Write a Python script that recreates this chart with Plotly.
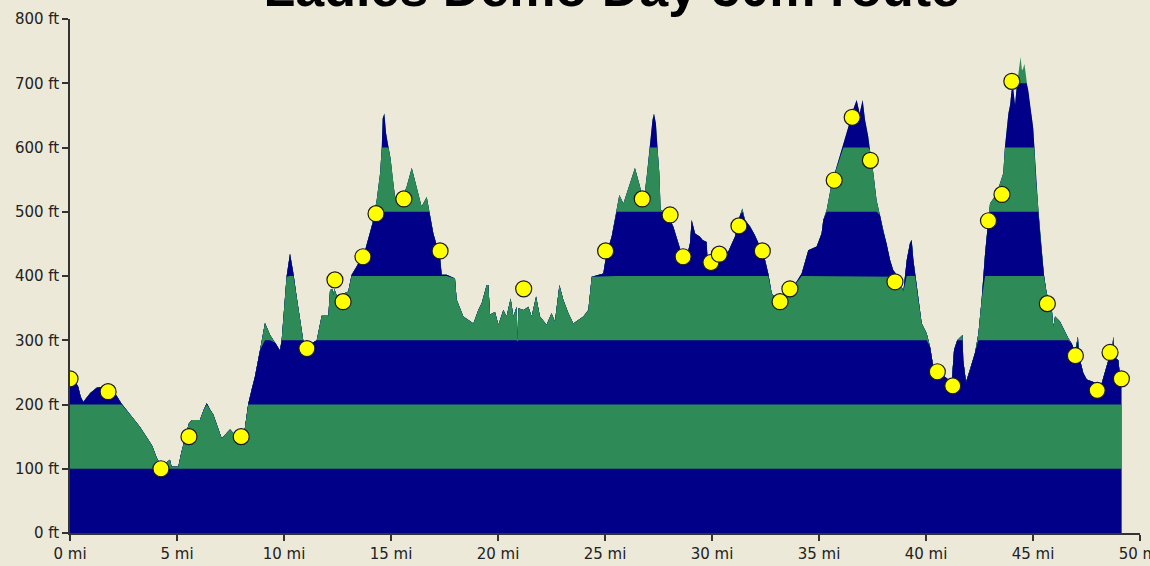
import numpy as np
import plotly.graph_objects as go

# Elevation profile (distance in miles, elevation in feet)
dist_mi = [0.00, 0.20, 0.38, 0.50, 0.62, 0.95, 1.25, 1.55, 1.87, 2.15, 2.41, 2.80, 3.27, 3.66, 3.85, 4.05,
           4.20, 4.45, 4.67, 4.75, 5.06, 5.20, 5.37, 5.55, 5.69, 6.07, 6.25, 6.39, 6.55, 6.70, 6.90, 7.09,
           7.30, 7.48, 7.65, 7.79, 7.95, 8.10, 8.18, 8.33, 8.50, 8.64, 8.88, 9.11, 9.35, 9.60, 9.81, 9.89,
           10.00, 10.12, 10.28, 10.44, 10.59, 10.75, 10.90, 10.98, 11.25, 11.53, 11.65, 11.76, 12.07, 12.15,
           12.25, 12.30, 12.35, 12.46, 12.75, 13.00, 13.16, 13.40, 13.79, 14.10, 14.33, 14.49, 14.57, 14.61,
           14.69, 14.77, 14.88, 14.98, 15.08, 15.19, 15.42, 15.73, 15.97, 16.20, 16.43, 16.67, 16.79, 16.98,
           17.29, 17.37, 17.60, 17.99, 18.07, 18.38, 18.85, 19.08, 19.24, 19.47, 19.55, 19.63, 19.86, 20.02,
           20.25, 20.40, 20.59, 20.72, 20.87, 20.92, 20.95, 21.20, 21.42, 21.57, 21.78, 21.96, 22.27, 22.50,
           22.66, 22.87, 23.05, 23.29, 23.52, 23.99, 24.22, 24.38, 24.92, 25.07, 25.31, 25.54, 25.67, 25.86,
           26.17, 26.40, 26.64, 26.79, 26.95, 27.10, 27.22, 27.29, 27.38, 27.45, 27.54, 27.60, 27.88, 28.19,
           28.43, 28.58, 28.82, 28.97, 29.05, 29.21, 29.44, 29.56, 29.75, 29.80, 29.98, 30.37, 30.76, 31.07,
           31.31, 31.42, 31.54, 31.78, 32.00, 32.32, 32.48, 32.63, 32.79, 33.02, 33.49, 33.80, 34.19, 34.50,
           34.89, 35.12, 35.20, 35.36, 35.59, 35.83, 36.14, 36.37, 36.53, 36.68, 36.76, 36.90, 37.04, 37.15,
           37.30, 37.38, 37.54, 37.69, 37.85, 38.00, 38.16, 38.32, 38.47, 38.71, 38.94, 39.10, 39.25, 39.33,
           39.41, 39.49, 39.64, 39.80, 40.03, 40.19, 40.34, 40.57, 40.97, 41.20, 41.31, 41.46, 41.71, 41.74,
           41.87, 42.06, 42.29, 42.45, 42.60, 42.76, 42.91, 42.99, 43.30, 43.61, 43.69, 43.77, 43.85, 43.93,
           44.00, 44.08, 44.16, 44.24, 44.36, 44.42, 44.48, 44.52, 44.60, 44.70, 44.78, 44.86, 44.94, 45.01,
           45.06, 45.14, 45.25, 45.36, 45.45, 45.51, 45.64, 45.87, 45.95, 46.03, 46.26, 46.50, 46.65, 46.81,
           46.96, 47.10, 47.14, 47.20, 47.35, 47.51, 47.82, 48.21, 48.36, 48.52, 48.68, 48.75, 48.80, 48.99,
           49.07, 49.12]
elev_ft = [242, 238, 228, 212, 204, 218, 226, 228, 226, 215, 201, 185, 165, 145, 135, 117,
           108, 108, 114, 103, 103, 125, 145, 170, 176, 176, 192, 202, 192, 184, 165, 147,
           155, 161, 155, 150, 140, 150, 165, 201, 225, 243, 285, 327, 308, 296, 284, 300,
           350, 399, 435, 404, 368, 335, 300, 293, 294, 300, 320, 338, 338, 378,
           380, 370, 380, 370, 372, 376, 402, 415, 440, 478, 518, 560, 601, 645,
           653, 622, 601, 583, 552, 523, 513, 539, 568, 539, 508, 523, 503, 466,
           430, 402, 402, 396, 363, 337, 326, 347, 358, 386, 386, 340, 344, 324,
           347, 337, 365, 337, 352, 298, 350, 347, 352, 337, 368, 337, 324, 342,
           329, 386, 363, 342, 326, 337, 347, 399, 404, 435, 461, 503, 526, 513,
           544, 568, 539, 513, 555, 601, 643, 653, 637, 601, 560, 503, 498, 477,
           451, 435, 430, 451, 487, 466, 461, 456, 453, 420, 420, 430, 438, 461,
           495, 505, 487, 477, 464, 440, 425, 404, 373, 363, 378, 383, 404, 440,
           446, 466, 487, 503, 544, 570, 606, 632, 653, 666, 674, 653, 674, 643,
           617, 596, 560, 518, 495, 470, 451, 425, 409, 399, 376, 425, 451, 456,
           425, 404, 363, 326, 311, 290, 259, 251, 241, 233, 285, 300, 308, 269,
           235, 254, 280, 311, 363, 435, 487, 513, 528, 560, 601, 627, 653, 666,
           689, 690, 666, 695, 721, 741, 721, 721, 730, 703, 689, 664, 648, 630,
           601, 549, 503, 456, 425, 402, 373, 352, 321, 337, 329, 313, 303, 295,
           282, 306, 280, 269, 249, 239, 235, 233, 249, 269, 277, 306, 274, 269,
           243, 240]

# Waypoints (yellow markers)
wp_mi = [0.0, 1.78, 4.25, 5.56, 8.0, 11.07, 12.38, 12.76, 13.69, 14.3, 15.6, 17.29, 21.2, 25.03,
         26.74, 28.04, 28.65, 29.95, 30.34, 31.26, 32.35, 33.18, 33.64, 35.71, 36.55, 37.4, 38.55,
         40.53, 41.25, 42.92, 43.55, 44.01, 45.67, 46.98, 48.0, 48.6, 49.13]
wp_ft = [240, 220, 100, 150, 150, 287, 394, 360, 430, 497, 520, 439, 380, 439,
         520, 495, 430, 421, 434, 478, 439, 360, 380, 549, 647, 580, 391,
         251, 229, 486, 527, 703, 357, 276, 222, 281, 240]

band_step = 100
band_colors = ["#000088", "#2E8B57"]
x_ticks = list(range(0, 51, 5))
y_ticks = list(range(0, 801, 100))
title_text = "Ladies Demo Day 50m route"

d = np.array(dist_mi)
e = np.array(elev_ft, dtype=float)

fig = go.Figure()
n_bands = 8
for k in range(n_bands - 1, -1, -1):
    top = (k + 1) * band_step
    fig.add_trace(go.Scatter(
        x=d, y=np.minimum(e, top), mode="lines", fill="tozeroy",
        fillcolor=band_colors[k % 2], line=dict(width=0, color=band_colors[k % 2]),
        hoverinfo="skip", showlegend=False))

fig.add_trace(go.Scatter(
    x=wp_mi, y=wp_ft, mode="markers", showlegend=False,
    marker=dict(size=16, color="#FFFF00", line=dict(color="#1a1a1a", width=1.2))))

axis_font = dict(family="DejaVu Sans", size=15, color="#222222")
fig.update_layout(
    width=1150, height=566,
    margin=dict(l=70, r=10, t=19, b=33, autoexpand=False),
    paper_bgcolor="#ECE9D8", plot_bgcolor="#ECE9D8",
    title=dict(text="<b>" + title_text + "</b>", x=0.532, xanchor="center",
               yref="container", y=1 - 6 / 566, yanchor="bottom",
               font=dict(family="Liberation Sans", size=52, color="#000000")),
    xaxis=dict(range=[0, 50], tickvals=x_ticks, ticktext=[f"{v} mi" for v in x_ticks],
               showgrid=False, zeroline=False, showline=True, linecolor="#333333", linewidth=1.5,
               ticks="outside", ticklen=6, tickcolor="#333333", tickwidth=1.5,
               tickfont=axis_font, ticklabeloverflow="allow", automargin=False),
    yaxis=dict(range=[0, 800], tickvals=y_ticks, ticktext=[f"{v} ft" for v in y_ticks],
               showgrid=False, zeroline=False, showline=True, linecolor="#333333", linewidth=1.5,
               ticks="outside", ticklen=6, tickcolor="#333333", tickwidth=1.5,
               tickfont=axis_font, ticklabeloverflow="allow", automargin=False),
)

fig.write_html("out.html", config={"displayModeBar": False},
               post_script="document.body.style.margin='0';document.body.style.overflow='hidden';")
